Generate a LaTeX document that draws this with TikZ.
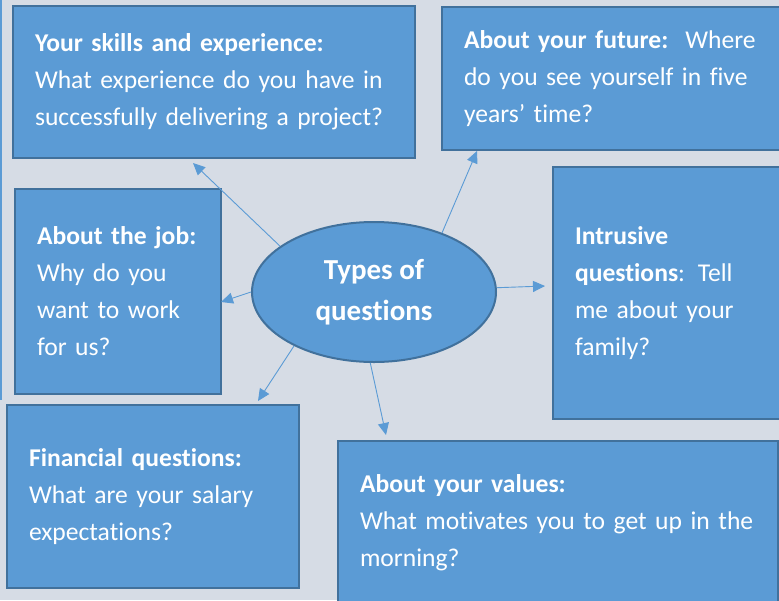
\documentclass[tikz,border=0pt]{standalone}
\usepackage{fontspec}
\setmainfont{Carlito}[Ligatures=NoCommon]
\usepackage{xcolor}
\usetikzlibrary{positioning,shapes.geometric,arrows.meta}

\definecolor{qfill}{HTML}{5B9BD5}
\definecolor{qline}{HTML}{41719C}
\definecolor{qback}{HTML}{D6DCE5}

\begin{document}
\begin{tikzpicture}[x=1pt,y=-1pt,
  qbox/.style={draw=qline,fill=qfill,line width=2pt,anchor=north west,
    inner xsep=22pt,inner ysep=0pt,align=left,text=white,
    font=\fontsize{25.6}{37}\selectfont},
  qtopic/.style={ellipse,draw=qline,fill=qfill,line width=2pt,inner sep=0pt,
    minimum width=244pt,minimum height=140pt,align=center,text=white,
    font=\bfseries\fontsize{29}{41}\selectfont},
  qarrow/.style={qfill,line width=0.9pt,-{Triangle[length=12pt,width=11pt]}}]
  % page
  \useasboundingbox (0,0) rectangle (779,600);
  \clip (0,0) rectangle (779,600);
  \fill[qback] (0,0) rectangle (779,600);
  \draw[qfill,line width=1.5pt] (1,0) -- (1,400);
  % boxes
  \node[qbox,minimum width=402pt,minimum height=152pt,text width=358pt] (skills) at (12,5)
    {\textbf{Your skills and experience:}\\What experience do you have in\\successfully delivering a project?};
  \node[qbox,minimum width=345pt,minimum height=143pt,text width=301pt] (future) at (441,6)
    {\textbf{About your future:}\ \ Where\\do you see yourself in five\\years’ time?};
  \node[qbox,minimum width=206pt,minimum height=205pt,text width=162pt] (job) at (14,188)
    {\textbf{About the job:}\\Why do you\\want to work\\for us?};
  \node[qbox,minimum width=240pt,minimum height=252pt,text width=196pt] (intrusive) at (552,166)
    {\textbf{Intrusive}\\\textbf{questions}: Tell\\me about your\\family?};
  \node[qbox,minimum width=292pt,minimum height=183pt,text width=248pt] (financial) at (6,404)
    {\textbf{Financial questions:}\\What are your salary\\expectations?};
  \node[qbox,minimum width=440pt,minimum height=164pt,text width=396pt] (values) at (337,440)
    {\textbf{About your values:}\\\mbox{What motivates you to get up in the}\\morning?};
  % centre
  \node[qtopic] (types) at (374,292) {Types of\\questions};
  % arrow tips
  \coordinate (skillsTip) at (193,163);
  \coordinate (futureTip) at (477,151);
  \coordinate (jobTip) at (221,302);
  \coordinate (intrusiveTip) at (545,286);
  \coordinate (financialTip) at (258,401);
  \coordinate (valuesTip) at (386,435);
  % arrows
  \draw[qarrow] (types.154) -- (skillsTip);
  \draw[qarrow] (types.41) -- (futureTip);
  \draw[qarrow] (types.180) -- (jobTip);
  \draw[qarrow] (types.2) -- (intrusiveTip);
  \draw[qarrow] (types.214) -- (financialTip);
  \draw[qarrow] (types.267) -- (valuesTip);
\end{tikzpicture}
\end{document}
